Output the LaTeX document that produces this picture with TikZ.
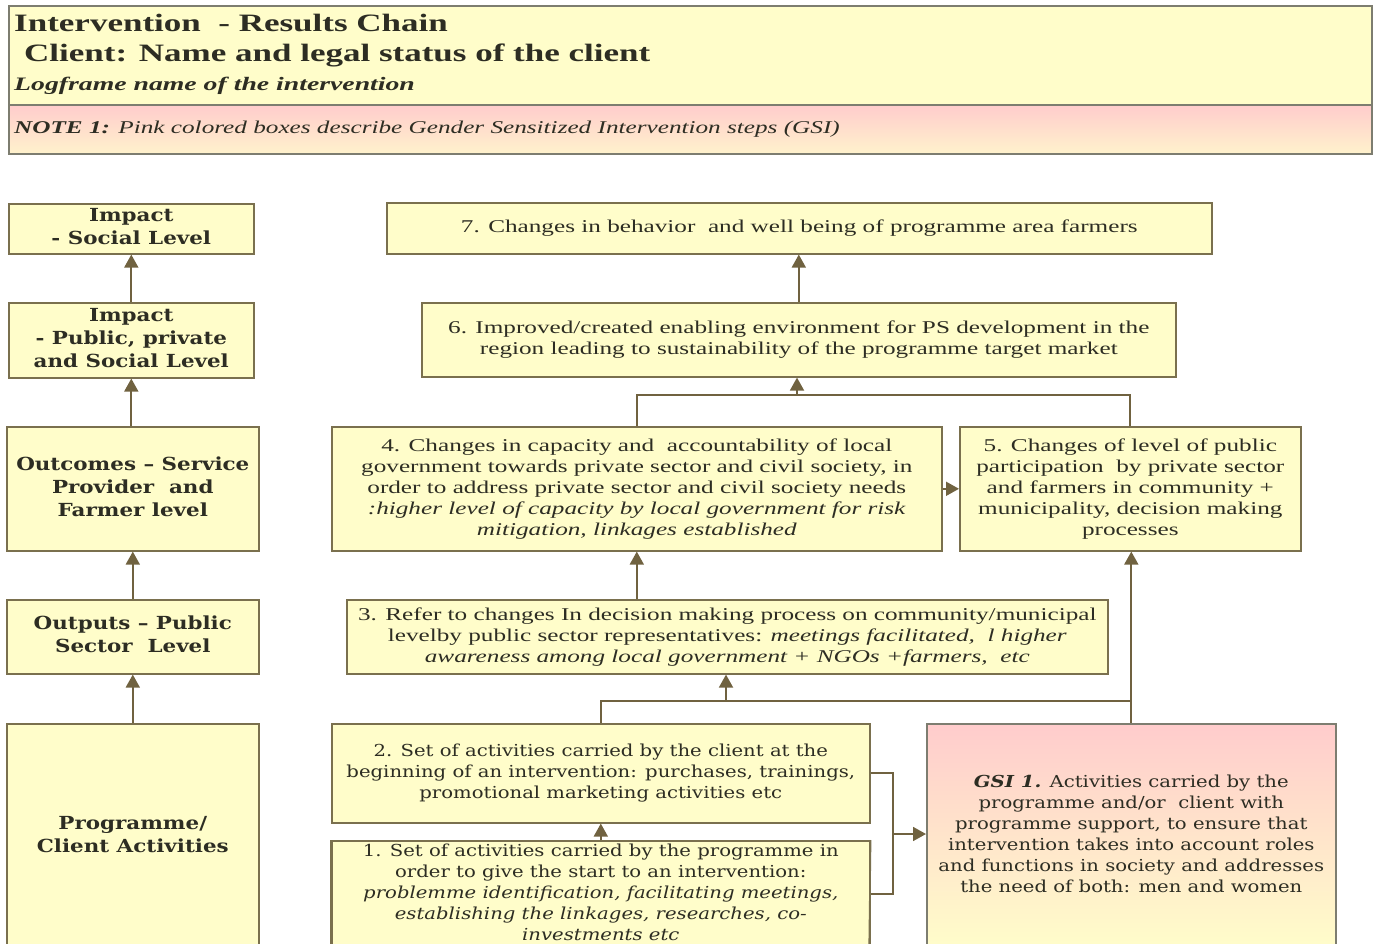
\documentclass[tikz,border=0pt]{standalone}
\usepackage{fontspec}
\usepackage{graphicx}
\setmainfont{Liberation Serif}
\newfontfamily\schoolfont{DejaVu Serif}
\usetikzlibrary{arrows.meta}
\definecolor{boxfill}{RGB}{255,253,202}
\definecolor{boxline}{RGB}{122,112,78}
\definecolor{headline}{RGB}{125,125,112}
\definecolor{connline}{RGB}{112,98,64}
\definecolor{pinktop}{RGB}{255,204,204}
\definecolor{textcol}{RGB}{45,45,35}
% widened, centred multi-line text blocks
\newcommand\wideT[1]{\scalebox{1.40}[1]{\begin{tabular}{@{}c@{}}#1\end{tabular}}}
\newcommand\wideS[1]{\scalebox{1.19}[1]{\begin{tabular}{@{}c@{}}#1\end{tabular}}}
\newcommand\wideH[2][1.40]{\scalebox{#1}[1]{#2}}
\tikzset{
  box/.style={draw=boxline, fill=boxfill, line width=1.6pt, inner sep=0pt,
    align=center, anchor=north west, text=textcol},
  gsibox/.style={box, draw=headline, top color=pinktop, bottom color=boxfill},
  bodytext/.style={font=\fontsize{18}{21}\selectfont},
  schooltext/.style={font=\schoolfont\fontsize{16.5}{21}\selectfont},
  leveltext/.style={font=\schoolfont\bfseries\fontsize{18}{23}\selectfont},
  headtext/.style={anchor=base west, inner sep=0, text=textcol},
  line/.style={draw=connline, line width=1.8pt},
  conn/.style={line, -{Triangle[length=13pt,width=14pt]}},
}
\begin{document}
\begin{tikzpicture}[x=1pt,y=-1pt]
\useasboundingbox (0,0) rectangle (1376,944);
\clip (0,0) rectangle (1376,944);
% header panel
\node[draw=headline, fill=boxfill, line width=1.6pt, anchor=north west,
  minimum width=1363, minimum height=99, inner sep=0] (head) at (8,5) {};
\node[draw=headline, line width=1.6pt, anchor=north west, top color=pinktop,
  bottom color={rgb,255:red,255;green,242;blue,204},
  minimum width=1363, minimum height=49, inner sep=0] (note) at (8,104) {};
\node[headtext, font=\bfseries\fontsize{25}{28}\selectfont] (t1) at (14,32)
  {\wideH{Intervention\ \ - Results Chain}};
\node[headtext, font=\bfseries\fontsize{25}{28}\selectfont] (t2) at (24,62)
  {\wideH{Client: Name and legal status of the client}};
\node[headtext, font=\bfseries\itshape\fontsize{19}{22}\selectfont] (t3) at (14,91)
  {\wideH[1.46]{Logframe name of the intervention}};
\node[headtext, font=\itshape\fontsize{18}{21}\selectfont] (t4) at (14,134)
  {\wideH{\textbf{NOTE 1:} Pink colored boxes describe Gender Sensitized Intervention steps (GSI)}};

% level column
\node[box, leveltext, minimum width=245, minimum height=50] (imp1) at (8,203)
  {\wideS{Impact\\- Social Level}};
\node[box, leveltext, minimum width=245, minimum height=75] (imp2) at (8,302)
  {\wideS{Impact\\- Public, private\\and Social Level}};
\node[box, leveltext, minimum width=252, minimum height=124] (outc) at (6,426)
  {\wideS{Outcomes – Service\\Provider\ \ and\\Farmer level}};
\node[box, leveltext, minimum width=252, minimum height=74] (outp) at (6,599)
  {\wideS{Outputs – Public\\Sector\ \ Level}};
\node[box, leveltext, minimum width=252, minimum height=226] (act) at (6,723)
  {\wideS{Programme/\\Client Activities}};

% results chain
\node[box, bodytext, minimum width=825, minimum height=51] (b7) at (386,202)
  {\wideT{7. Changes in behavior\ \ and well being of programme area farmers}};
\node[box, bodytext, minimum width=754, minimum height=74] (b6) at (421,302)
  {\wideT{6. Improved/created enabling environment for PS development in the\\
   region leading to sustainability of the programme target market}};
\node[box, bodytext, minimum width=610, minimum height=124] (b4) at (331,426)
  {\wideT{4. Changes in capacity and\ \ accountability of local\\
   government towards private sector and civil society, in\\
   order to address private sector and civil society needs\\
   \textit{:higher level of capacity by local government for risk}\\
   \textit{mitigation, linkages established}}};
\node[box, bodytext, minimum width=341, minimum height=124] (b5) at (959,426)
  {\wideT{5. Changes of level of public\\
   participation\ \ by private sector\\
   and farmers in community +\\
   municipality, decision making\\
   processes}};
\node[box, bodytext, minimum width=761, minimum height=74] (b3) at (346,599)
  {\wideT{3. Refer to changes In decision making process on community/municipal\\
   levelby public sector representatives: \textit{meetings facilitated,\ \ l higher}\\
   \textit{awareness among local government + NGOs +farmers,\ \ etc}}};
\node[box, schooltext, minimum width=538, minimum height=99] (b2) at (331,723)
  {\wideS{2. Set of activities carried by the client at the\\
   beginning of an intervention: purchases, trainings,\\
   promotional marketing activities etc}};
\node[box, schooltext, minimum width=538, minimum height=106] (b1) at (331,840)
  {\wideS{1. Set of activities carried by the programme in\\
   order to give the start to an intervention:\\
   \textit{problemme identification, facilitating meetings,}\\
   \textit{establishing the linkages, researches, co-}\\
   \textit{investments etc}}};
\node[gsibox, schooltext, minimum width=409, minimum height=224] (gsi) at (926,723)
  {\wideS{\textbf{\textit{GSI 1.}} Activities carried by the\\
   programme and/or\ \ client with\\
   programme support, to ensure that\\
   intervention takes into account roles\\
   and functions in society and addresses\\
   the need of both: men and women}};
% keep the lower border of the bottom row outside the page
\draw[draw=boxline, line width=1.6pt] (b1.north west) -- (331,960) (b1.north east) -- (869,960);

% connectors of the level column
\draw[conn] (imp2.north) -- (imp1.south);
\draw[conn] (outc.north -| imp2.south) -- (imp2.south);
\draw[conn] (outp.north) -- (outc.south);
\draw[conn] (act.north) -- (outp.south);

% connectors of the results chain
\draw[conn] (b6.north) -- (b6.north |- b7.south);
\coordinate (m45) at (797,395);
\draw[line] (b4.north) |- (m45) -| (b5.north);
\draw[conn] (m45) -- (m45 |- b6.south);
\draw[conn] (b4.east) -- (b5.west);
\draw[conn] (b4.south |- b3.north) -- (b4.south);
\coordinate (m23) at (726,701);
\draw[conn] (b2.north) |- (m23) -- (m23 |- b3.south);
\draw[line] (m23) -- (gsi.north |- m23);
\draw[conn] (gsi.north) -- (gsi.north |- b5.south);
\draw[conn] (b1.north) -- (b2.south);
\coordinate (mg) at (893,834);
\draw[line] (b2.east) -| (mg) |- (b1.east);
\draw[conn] (mg) -- (gsi.west |- mg);
\end{tikzpicture}
\end{document}
